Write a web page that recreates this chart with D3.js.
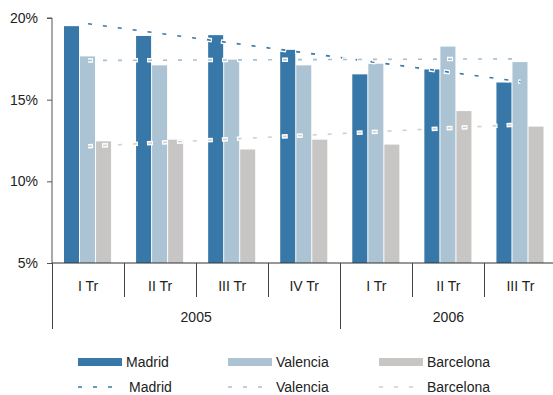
<!DOCTYPE html>
<html><head><meta charset="utf-8">
<script src="https://cdn.jsdelivr.net/npm/d3@7"></script>
<style>
html,body{margin:0;padding:0;background:#fff;}
svg{display:block;font-family:"Liberation Sans",Arial,Helvetica,sans-serif;}
</style></head>
<body><svg id="c" width="553" height="395"></svg>
<script>
const categories = ["I Tr","II Tr","III Tr","IV Tr","I Tr","II Tr","III Tr"];
const years = ["2005","2005","2005","2005","2006","2006","2006"];
const seriesNames = ["Madrid","Valencia","Barcelona"];
const madrid    = [19.5, 18.9, 18.95, 18.05, 16.55, 16.85, 16.05];
const valencia  = [17.65, 17.1, 17.45, 17.1, 17.2, 18.25, 17.3];
const barcelona = [12.45, 12.55, 11.95, 12.55, 12.25, 14.3, 13.35];
// trend lines (first and last quarter)
const trendMadrid    = [19.65, 16.1];
const trendValencia  = [17.4, 17.5];
const trendBarcelona = [12.15, 13.48];
const yTicks = [5, 10, 15, 20];

const colors = ["#3878a8", "#abc3d3", "#c8c6c4"];
const trendColors = ["#3878a8", "#a4c0d6", "#cfcfcf"];
const values = [madrid, valencia, barcelona];
const trends = [trendMadrid, trendValencia, trendBarcelona];

const svg = d3.select("#c");
const x0 = 52, x1 = 556.5;
const idx = categories.map((d,i)=>i);
const x = d3.scaleBand().domain(idx).range([x0, x1]).paddingInner(0).paddingOuter(0);
const inner = d3.scaleBand().domain([0,1,2]).range([12, x.bandwidth()-12]);
const y = d3.scaleLinear().domain([5,20]).range([263,18]);

// bars
values.forEach((vals, s) => {
  svg.append("g").selectAll("rect").data(vals).join("rect")
    .attr("x", (d,i)=> x(i) + inner(s))
    .attr("y", d => y(d))
    .attr("width", inner.bandwidth()-1)
    .attr("height", d => y(5) - y(d))
    .attr("fill", colors[s]);
});

// trend lines with white halo
const line = d3.line().x(d=>d[0]).y(d=>d[1]);
trends.forEach((t, s) => {
  const pts = [[x(0)+x.bandwidth()/2, y(t[0])], [x(6)+x.bandwidth()/2, y(t[1])]];
  svg.append("path").attr("d", line(pts)).attr("fill","none")
    .attr("stroke","#fff").attr("stroke-width",4.5).attr("stroke-dasharray","6,9")
    .attr("stroke-dashoffset", 1);
  svg.append("path").attr("d", line(pts)).attr("fill","none")
    .attr("stroke",trendColors[s]).attr("stroke-width",1.6).attr("stroke-dasharray","4,11");
});

// y axis
const yAxis = d3.axisLeft(y).tickValues(yTicks).tickSize(5).tickPadding(9).tickFormat(d=>d+"%");
const ga = svg.append("g").attr("transform",`translate(${x0},0)`).call(yAxis);
ga.select(".domain").attr("stroke","#555").attr("d", `M-5,${y(20)}H0V${y(5)}`);
ga.selectAll(".tick line").attr("stroke","#555");
ga.selectAll(".tick text").attr("font-size",14).attr("fill","#222")
  .attr("font-family","'Liberation Sans',Arial,sans-serif");

// x axis (two-level categories)
svg.append("line").attr("x1",x0).attr("x2",553).attr("y1",263).attr("y2",263).attr("stroke","#333");
idx.forEach(i => {
  const xs = Math.round(x(i)) + 0.5;
  const long = i === 0 || years[i] !== years[i-1];
  svg.append("line").attr("x1",xs).attr("x2",xs).attr("y1",263).attr("y2", long ? 329 : 297)
    .attr("stroke","#444");
  svg.append("text").attr("x", x(i)+x.bandwidth()/2).attr("y", 291)
    .attr("text-anchor","middle").attr("font-size",14).attr("fill","#222").text(categories[i]);
});
const yearGroups = d3.groups(idx, i => years[i]);
yearGroups.forEach(([yr, is]) => {
  const a = x(is[0]), b = x(is[is.length-1]) + x.bandwidth();
  svg.append("text").attr("x",(a+b)/2).attr("y",322).attr("text-anchor","middle")
    .attr("font-size",14).attr("fill","#222").text(yr);
});

// legend
const legX = [78, 228, 379];
seriesNames.forEach((n, s) => {
  svg.append("rect").attr("x",legX[s]).attr("y",358).attr("width",44).attr("height",8).attr("fill",colors[s]);
  svg.append("text").attr("x",legX[s]+48).attr("y",367).attr("font-size",14).attr("fill","#222").text(n);
  svg.append("line").attr("x1",legX[s]).attr("x2",legX[s]+44).attr("y1",387).attr("y2",387)
    .attr("stroke",trendColors[s]).attr("stroke-width",1.6).attr("stroke-dasharray","4,11");
  svg.append("text").attr("x",legX[s]+(s===0?51:48)).attr("y",391.5).attr("font-size",14).attr("fill","#222").text(n);
});
</script></body></html>
